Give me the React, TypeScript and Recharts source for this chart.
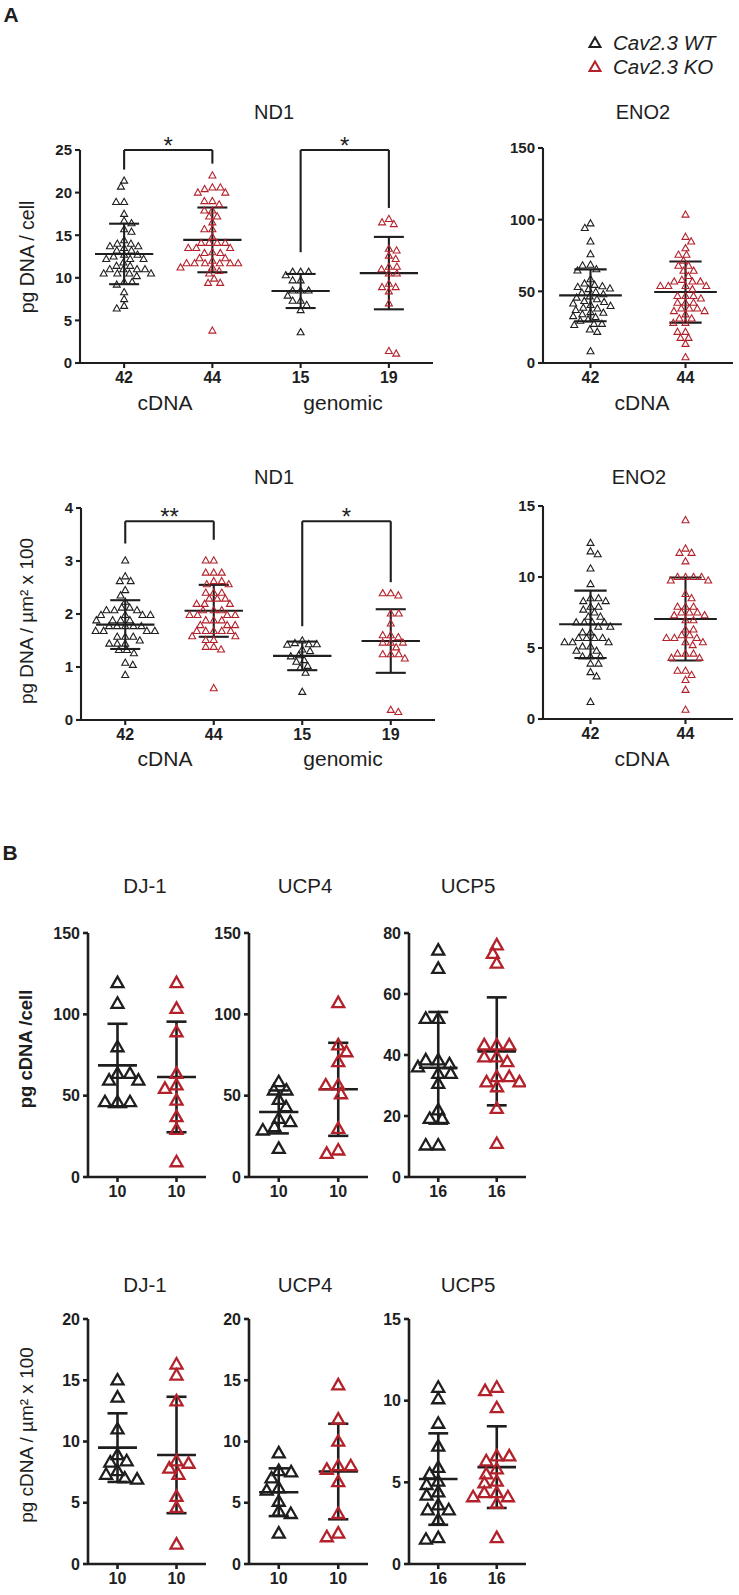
import React from 'react';
import { ScatterChart, Scatter, XAxis, YAxis, ReferenceLine, ReferenceDot } from 'recharts';

const FONT = '"Liberation Sans", Arial, Helvetica, sans-serif';
const INK = '#1e1e1e';
const RED = '#B3222B';

// ---------- Panel A, row 1: pg DNA / cell ----------
const nd1CellLabels = ['42', '44', '15', '19'];
const nd1CellWT = [21.4, 20.7, 18.9, 18.9, 17.5, 16.7, 16.4, 15.7, 15.4, 14.4, 14.0, 14.0, 13.7, 13.7, 13.5, 13.2, 13.2, 12.7, 12.7, 12.5, 12.2, 12.2, 12.2, 11.8, 11.4, 11.4, 11.0, 11.0, 11.0, 11.0, 10.5, 10.5, 10.5, 10.5, 10.2, 9.5, 9.5, 9.2, 8.3, 7.5, 6.7, 6.4];
const nd1CellKO = [22.0, 20.6, 20.4, 20.6, 20.0, 20.0, 19.0, 19.0, 18.6, 17.9, 17.9, 17.2, 17.2, 16.5, 15.7, 15.7, 14.8, 14.1, 14.1, 14.1, 14.1, 13.5, 13.5, 13.5, 13.0, 12.9, 12.9, 12.3, 12.3, 12.0, 11.7, 11.7, 11.7, 11.7, 11.7, 11.7, 11.2, 11.2, 10.8, 10.5, 9.9, 9.4, 9.4, 3.8];
const nd1CellGenWT = [10.7, 10.7, 10.7, 10.3, 9.7, 9.7, 8.5, 8.5, 8.5, 7.9, 7.3, 7.3, 6.8, 6.2, 3.6];
const nd1CellGenKO = [16.9, 16.3, 16.5, 13.4, 13.2, 12.6, 12.2, 11.3, 11.3, 11.0, 10.5, 10.5, 9.3, 8.9, 8.9, 8.4, 7.0, 1.4, 1.1];
const nd1CellMean = [12.8, 14.45, 8.45, 10.55];
const nd1CellSd = [3.55, 3.8, 2.0, 4.25];
const nd1CellTicks = [0, 5, 10, 15, 20, 25];

const eno2CellLabels = ['42', '44'];
const eno2CellWT = [97.4, 94.2, 84.8, 75.9, 68.5, 68.0, 65.4, 64.5, 58.4, 55.4, 54.5, 53.5, 53.0, 52, 51.5, 49.5, 49, 48, 46.5, 45.6, 44.5, 43.2, 42.5, 41.5, 40.4, 39.8, 38.5, 38, 37, 35.5, 35, 34, 32.7, 32, 30.4, 29.5, 27.3, 27.3, 26.5, 23.4, 21.7, 8.2];
const eno2CellKO = [103.5, 88, 84.8, 80, 75.5, 75.5, 71.3, 67.8, 67.8, 64.3, 64.3, 60.7, 58, 56.8, 56.8, 56.8, 53.7, 53.7, 53.7, 53.7, 51.4, 46.7, 46.7, 46.7, 45, 42, 42, 42, 38, 38, 38, 36.2, 36.2, 33.9, 31, 31, 28, 28, 21.7, 21.7, 17.5, 17.5, 13.3, 4];
const eno2CellMean = [47.2, 49.5];
const eno2CellSd = [18.1, 21.3];
const eno2CellTicks = [0, 50, 100, 150];

// ---------- Panel A, row 2: pg DNA / um2 x 100 ----------
const nd1AreaWT = [3.01, 2.71, 2.62, 2.62, 2.45, 2.35, 2.23, 2.12, 2.12, 2.07, 2.07, 2.07, 1.98, 1.98, 1.98, 1.98, 1.88, 1.88, 1.88, 1.88, 1.77, 1.77, 1.77, 1.77, 1.77, 1.68, 1.68, 1.68, 1.68, 1.57, 1.57, 1.57, 1.5, 1.44, 1.44, 1.44, 1.32, 1.32, 1.26, 1.08, 1.04, 0.85];
const nd1AreaKO = [3.01, 3.01, 2.78, 2.78, 2.78, 2.62, 2.62, 2.56, 2.56, 2.40, 2.40, 2.40, 2.29, 2.29, 2.29, 2.19, 2.19, 2.19, 2.07, 2.07, 2.07, 1.98, 1.98, 1.98, 1.98, 1.88, 1.88, 1.88, 1.79, 1.79, 1.79, 1.68, 1.68, 1.68, 1.68, 1.68, 1.58, 1.58, 1.51, 1.51, 1.38, 1.38, 1.33, 0.60];
const nd1AreaGenWT = [1.50, 1.45, 1.43, 1.43, 1.42, 1.33, 1.30, 1.22, 1.20, 1.13, 1.10, 1.02, 0.98, 0.89, 0.53];
const nd1AreaGenKO = [2.39, 2.35, 2.39, 2.01, 2.01, 1.82, 1.60, 1.60, 1.56, 1.46, 1.46, 1.46, 1.37, 1.24, 1.24, 1.24, 1.16, 0.19, 0.15];
const nd1AreaMean = [1.80, 2.06, 1.21, 1.49];
const nd1AreaSd = [0.46, 0.49, 0.27, 0.60];
const nd1AreaTicks = [0, 1, 2, 3, 4];

const eno2AreaWT = [12.4, 11.8, 11.6, 10.6, 9.5, 8.5, 8.5, 8.3, 8.3, 7.9, 7.9, 7.7, 7.5, 7.2, 7.2, 6.8, 6.8, 6.8, 6.8, 6.5, 6.5, 6.1, 6.1, 5.7, 5.7, 5.7, 5.7, 5.4, 5.4, 5.4, 5.1, 5.1, 4.8, 4.8, 4.4, 4.4, 4.4, 3.9, 3.9, 3.3, 3.0, 1.2];
const eno2AreaKO = [14.0, 12.0, 11.7, 11.7, 11.1, 10.0, 10.0, 10.0, 10.0, 9.75, 9.75, 8.8, 8.5, 7.9, 7.9, 7.9, 7.5, 7.5, 7.5, 7.3, 7.3, 6.95, 6.95, 6.3, 6.3, 5.9, 5.9, 5.7, 5.7, 5.7, 5.4, 5.4, 5.2, 4.6, 4.6, 4.6, 4.3, 4.3, 3.4, 3.4, 3.1, 2.75, 2.05, 0.65];
const eno2AreaMean = [6.67, 7.04];
const eno2AreaSd = [2.37, 2.92];
const eno2AreaTicks = [0, 5, 10, 15];

// ---------- Panel B, row 1: pg cDNA / cell ----------
const bLabels10 = ['10', '10'];
const bLabels16 = ['16', '16'];
const dj1CellWT = [119.3, 106.6, 79.9, 63.5, 63.5, 59.4, 59.4, 46.1, 46.1, 46.1];
const dj1CellKO = [119.3, 103.5, 89.1, 63.5, 56.4, 54.3, 47.1, 36.9, 29.1, 9.2];
const dj1CellMean = [68.6, 61.5];
const dj1CellSd = [25.6, 34.0];
const ucp4CellWT = [58.4, 53.3, 53.3, 47.5, 43, 35.9, 33.8, 30.7, 28.7, 17.4];
const ucp4CellKO = [107, 81, 76.8, 70.7, 56.4, 56.4, 51, 29.7, 16.4, 14.3];
const ucp4CellMean = [40.0, 53.9];
const ucp4CellSd = [13.2, 28.6];
const ucp5CellWT = [74.3, 68.3, 51.9, 51.9, 38.3, 38.3, 37, 36, 33.9, 33.9, 30.6, 21.9, 19.1, 19.1, 10.4, 10.4];
const ucp5CellKO = [76, 73.2, 70, 43.2, 43.2, 43.2, 39.3, 39.3, 37.7, 32.8, 32.8, 31.1, 31.1, 29.5, 22.4, 10.9];
const ucp5CellMean = [35.8, 41.2];
const ucp5CellSd = [18.3, 17.7];
const cell150Ticks = [0, 50, 100, 150];
const cell80Ticks = [0, 20, 40, 60, 80];

// ---------- Panel B, row 2: pg cDNA / um2 x 100 ----------
const dj1AreaWT = [15.0, 13.6, 11.0, 8.9, 8.4, 8.3, 7.6, 7.3, 7.0, 6.9];
const dj1AreaKO = [16.3, 15.4, 13.3, 8.4, 8.2, 7.8, 7.3, 5.5, 4.6, 1.6];
const dj1AreaMean = [9.5, 8.9];
const dj1AreaSd = [2.8, 4.75];
const ucp4AreaWT = [9.05, 7.6, 7.5, 7.0, 6.2, 6.0, 5.1, 4.3, 4.1, 2.5];
const ucp4AreaKO = [14.6, 11.8, 10.0, 8.0, 8.0, 7.7, 6.7, 4.1, 2.5, 2.2];
const ucp4AreaMean = [5.86, 7.55];
const ucp4AreaSd = [1.95, 3.9];
const ucp5AreaWT = [10.8, 10.1, 8.6, 7.2, 5.9, 5.5, 5.05, 4.85, 4.4, 4.2, 3.6, 3.3, 3.3, 2.7, 1.6, 1.5];
const ucp5AreaKO = [10.8, 10.6, 9.55, 6.6, 6.6, 6.3, 5.8, 5.5, 5.05, 4.95, 4.35, 4.35, 4.1, 4.1, 3.7, 1.6];
const ucp5AreaMean = [5.2, 5.93];
const ucp5AreaSd = [2.8, 2.5];
const area20Ticks = [0, 5, 10, 15, 20];
const area15Ticks = [0, 5, 10, 15];

// ---------- layout helpers ----------
type Bracket = { from: number; to: number; top: number; leftEnd: number; rightEnd: number; label: string };
type PanelCfg = {
  axisX: number; right: number; yTop: number; yBot: number;
  yMax: number; yTicks: number[]; xLabels: string[];
  series: number[][]; means: number[]; sds: number[];
  brackets?: Bracket[]; big?: boolean;
};

// deterministic beeswarm: elliptical collision (Dx horizontal, Dy vertical)
function swarm(values: number[], pxPerUnit: number, Dx: number, Dy: number): number[] {
  const order = values.map((_, i) => i).sort((a, b) => values[b] - values[a]);
  const placed: { x: number; y: number }[] = [];
  const out: number[] = new Array(values.length).fill(0);
  let flip = 1;
  const ok = (c: number, y: number, near: { x: number; y: number }[]) =>
    near.every((p) => ((p.x - c) / Dx) ** 2 + ((p.y - y) / Dy) ** 2 >= 0.999);
  for (const i of order) {
    const y = values[i] * pxPerUnit;
    const near = placed.filter((p) => Math.abs(p.y - y) < Dy);
    const cands: number[] = [0];
    near.forEach((p) => {
      const r = (p.y - y) / Dy;
      const d = Dx * Math.sqrt(Math.max(0, 1 - r * r));
      cands.push(p.x + d, p.x - d);
    });
    const f = flip;
    cands.sort((a, b) => {
      const da = Math.abs(a) - Math.abs(b);
      if (Math.abs(da) > 0.01) return da;
      return f * (b - a);
    });
    let x = 0;
    for (const c of cands) {
      if (ok(c, y, near)) { x = c; break; }
    }
    flip = -flip;
    placed.push({ x, y });
    out[i] = x;
  }
  return out;
}

function Panel({ p }: { p: PanelCfg }) {
  const YW = 50, MT = 34, MR = 6, XH = 36;
  const left = p.axisX - YW;
  const top = p.yTop - MT;
  const width = p.right - left + MR;
  const height = p.yBot - top + XH;
  const n = p.xLabels.length;
  const pxPerUnit = (p.yBot - p.yTop) / p.yMax;
  const big = !!p.big;
  const Dx = big ? 12.5 : 8;
  const Dy = big ? 9 : 6.5;
  const tw = big ? 12 : 7;
  const th = big ? 10.5 : 6.2;
  const sw = big ? 2.3 : 1.1;
  const lw = big ? 2.6 : 2.1;
  const data = p.series.map((vals, gi) => {
    const offs = swarm(vals, pxPerUnit, Dx, Dy);
    return vals.map((v, i) => ({ x: gi, y: v, dx: offs[i] }));
  });
  const axisStyle = { stroke: INK, strokeWidth: lw };
  const ticks = Array.from({ length: n }, (_, i) => i);
  return (
    <div style={{ position: 'absolute', left, top, width, height }}>
      <ScatterChart width={width} height={height} margin={{ top: MT, right: MR, bottom: 0, left: 0 }}>
        <XAxis type="number" dataKey="x" domain={[-0.5, n - 0.5]} ticks={ticks} interval={0}
          tickFormatter={(v: number) => p.xLabels[Math.round(v)]} height={XH} allowDataOverflow
          axisLine={axisStyle} tickLine={axisStyle} tickSize={5} tickMargin={4}
          tick={{ fill: INK, fontSize: 16, fontWeight: 700, fontFamily: FONT }} />
        <YAxis type="number" dataKey="y" domain={[0, p.yMax]} ticks={p.yTicks} width={YW} allowDataOverflow
          axisLine={axisStyle} tickLine={axisStyle} tickSize={5} tickMargin={3}
          tick={{ fill: INK, fontSize: big ? 16 : 15, fontWeight: 700, fontFamily: FONT }} />
        {data.map((d, gi) => (
          <Scatter key={'s' + gi} data={d} isAnimationActive={false}
            shape={(props: any) => {
              const cx = props.cx + (props.payload?.dx || 0);
              const cy = props.cy;
              const path = `M${cx},${cy - th * 0.6}L${cx + tw / 2},${cy + th * 0.4}L${cx - tw / 2},${cy + th * 0.4}Z`;
              return <path d={path} fill="none" stroke={gi % 2 === 0 ? INK : RED} strokeWidth={sw} strokeLinejoin="miter" />;
            }} />
        ))}
        {p.means.map((m, gi) => {
          const s = p.sds[gi];
          const c = 0.17, w = 0.33;
          return (
            <React.Fragment key={'e' + gi}>
              <ReferenceLine segment={[{ x: gi - w, y: m }, { x: gi + w, y: m }]} stroke={INK} strokeWidth={lw} ifOverflow="visible" />
              <ReferenceLine segment={[{ x: gi, y: m - s }, { x: gi, y: m + s }]} stroke={INK} strokeWidth={lw} ifOverflow="visible" />
              <ReferenceLine segment={[{ x: gi - c, y: m + s }, { x: gi + c, y: m + s }]} stroke={INK} strokeWidth={lw} ifOverflow="visible" />
              <ReferenceLine segment={[{ x: gi - c, y: m - s }, { x: gi + c, y: m - s }]} stroke={INK} strokeWidth={lw} ifOverflow="visible" />
            </React.Fragment>
          );
        })}
        {(p.brackets || []).map((b, bi) => (
          <React.Fragment key={'b' + bi}>
            <ReferenceLine segment={[{ x: b.from, y: b.top }, { x: b.to, y: b.top }]} stroke={INK} strokeWidth={lw} ifOverflow="visible" />
            <ReferenceLine segment={[{ x: b.from, y: b.top }, { x: b.from, y: b.leftEnd }]} stroke={INK} strokeWidth={lw} ifOverflow="visible" />
            <ReferenceLine segment={[{ x: b.to, y: b.top }, { x: b.to, y: b.rightEnd }]} stroke={INK} strokeWidth={lw} ifOverflow="visible" />
            <ReferenceDot x={(b.from + b.to) / 2} y={b.top} r={0} ifOverflow="visible"
              shape={(props: any) => (
                <text x={props.cx} y={props.cy + 4} textAnchor="middle" fontSize={24} fontFamily={FONT} fill={INK}>{b.label}</text>
              )} />
          </React.Fragment>
        ))}
      </ScatterChart>
    </div>
  );
}

const panels: PanelCfg[] = [
  { axisX: 80, right: 433, yTop: 150, yBot: 363, yMax: 25, yTicks: nd1CellTicks, xLabels: nd1CellLabels,
    series: [nd1CellWT, nd1CellKO, nd1CellGenWT, nd1CellGenKO], means: nd1CellMean, sds: nd1CellSd,
    brackets: [
      { from: 0, to: 1, top: 25, leftEnd: 22.7, rightEnd: 23.4, label: '*' },
      { from: 2, to: 3, top: 25, leftEnd: 13.0, rightEnd: 18.2, label: '*' },
    ] },
  { axisX: 543, right: 733, yTop: 148, yBot: 363, yMax: 150, yTicks: eno2CellTicks, xLabels: eno2CellLabels,
    series: [eno2CellWT, eno2CellKO], means: eno2CellMean, sds: eno2CellSd },
  { axisX: 81, right: 435, yTop: 508, yBot: 720, yMax: 4, yTicks: nd1AreaTicks, xLabels: nd1CellLabels,
    series: [nd1AreaWT, nd1AreaKO, nd1AreaGenWT, nd1AreaGenKO], means: nd1AreaMean, sds: nd1AreaSd,
    brackets: [
      { from: 0, to: 1, top: 3.75, leftEnd: 3.33, rightEnd: 3.4, label: '**' },
      { from: 2, to: 3, top: 3.75, leftEnd: 1.77, rightEnd: 2.6, label: '*' },
    ] },
  { axisX: 543, right: 733, yTop: 506, yBot: 719, yMax: 15, yTicks: eno2AreaTicks, xLabels: eno2CellLabels,
    series: [eno2AreaWT, eno2AreaKO], means: eno2AreaMean, sds: eno2AreaSd },
  { axisX: 88, right: 206, yTop: 933, yBot: 1177, yMax: 150, yTicks: cell150Ticks, xLabels: bLabels10,
    series: [dj1CellWT, dj1CellKO], means: dj1CellMean, sds: dj1CellSd, big: true },
  { axisX: 249, right: 368, yTop: 933, yBot: 1177, yMax: 150, yTicks: cell150Ticks, xLabels: bLabels10,
    series: [ucp4CellWT, ucp4CellKO], means: ucp4CellMean, sds: ucp4CellSd, big: true },
  { axisX: 409, right: 526, yTop: 933, yBot: 1177, yMax: 80, yTicks: cell80Ticks, xLabels: bLabels16,
    series: [ucp5CellWT, ucp5CellKO], means: ucp5CellMean, sds: ucp5CellSd, big: true },
  { axisX: 88, right: 206, yTop: 1319, yBot: 1564, yMax: 20, yTicks: area20Ticks, xLabels: bLabels10,
    series: [dj1AreaWT, dj1AreaKO], means: dj1AreaMean, sds: dj1AreaSd, big: true },
  { axisX: 249, right: 368, yTop: 1319, yBot: 1564, yMax: 20, yTicks: area20Ticks, xLabels: bLabels10,
    series: [ucp4AreaWT, ucp4AreaKO], means: ucp4AreaMean, sds: ucp4AreaSd, big: true },
  { axisX: 409, right: 526, yTop: 1319, yBot: 1564, yMax: 15, yTicks: area15Ticks, xLabels: bLabels16,
    series: [ucp5AreaWT, ucp5AreaKO], means: ucp5AreaMean, sds: ucp5AreaSd, big: true },
];

type Txt = { t: string; x: number; y: number; size: number; bold?: boolean; italic?: boolean; rot?: boolean; anchor?: 'left' | 'center' };
const texts: Txt[] = [
  { t: 'A', x: 11, y: 14, size: 21, bold: true },
  { t: 'B', x: 10, y: 852, size: 21, bold: true },
  { t: 'ND1', x: 274, y: 112, size: 20 },
  { t: 'ENO2', x: 643, y: 112, size: 20 },
  { t: 'ND1', x: 274, y: 477, size: 20 },
  { t: 'ENO2', x: 639, y: 477, size: 20 },
  { t: 'cDNA', x: 165, y: 402, size: 21 },
  { t: 'genomic', x: 343, y: 402, size: 21 },
  { t: 'cDNA', x: 642, y: 402, size: 21 },
  { t: 'cDNA', x: 165, y: 758, size: 21 },
  { t: 'genomic', x: 343, y: 758, size: 21 },
  { t: 'cDNA', x: 642, y: 758, size: 21 },
  { t: 'pg DNA / cell', x: 28, y: 257, size: 19.5, rot: true },
  { t: 'pg DNA / µm² x 100', x: 26, y: 621, size: 19, rot: true },
  { t: 'pg cDNA /cell', x: 26, y: 1049, size: 18.5, bold: true, rot: true },
  { t: 'pg cDNA / µm² x 100', x: 26, y: 1435, size: 19, rot: true },
  { t: 'DJ-1', x: 145, y: 886, size: 20.5 },
  { t: 'UCP4', x: 305, y: 886, size: 20.5 },
  { t: 'UCP5', x: 468, y: 886, size: 20.5 },
  { t: 'DJ-1', x: 145, y: 1285, size: 20.5 },
  { t: 'UCP4', x: 305, y: 1285, size: 20.5 },
  { t: 'UCP5', x: 468, y: 1285, size: 20.5 },
  { t: 'Cav2.3 WT', x: 613, y: 43, size: 20.5, italic: true, anchor: 'left' },
  { t: 'Cav2.3 KO', x: 613, y: 67, size: 20.5, italic: true, anchor: 'left' },
];

const legendMarks = [
  { x: 595, y: 43, color: INK },
  { x: 595, y: 67, color: RED },
];

export default function App() {
  return (
    <div style={{ position: 'absolute', left: 0, top: 0, width: 739, height: 1595, background: '#fff', fontFamily: FONT, color: INK, overflow: 'hidden' }}>
      {panels.map((p, i) => <Panel key={i} p={p} />)}
      {texts.map((t, i) => (
        <div key={'t' + i} style={{
          position: 'absolute', left: t.x, top: t.y, whiteSpace: 'nowrap', lineHeight: 1,
          fontSize: t.size, fontWeight: t.bold ? 700 : 400, fontStyle: t.italic ? 'italic' : 'normal',
          transform: t.anchor === 'left' ? 'translate(0,-50%)' : t.rot ? 'translate(-50%,-50%) rotate(-90deg)' : 'translate(-50%,-50%)',
        }}>{t.t}</div>
      ))}
      <svg style={{ position: 'absolute', left: 0, top: 0 }} width={739} height={100}>
        {legendMarks.map((m, i) => (
          <path key={i} d={`M${m.x},${m.y - 5.5}L${m.x + 5.5},${m.y + 4}L${m.x - 5.5},${m.y + 4}Z`} fill="none" stroke={m.color} strokeWidth={2} />
        ))}
      </svg>
    </div>
  );
}
